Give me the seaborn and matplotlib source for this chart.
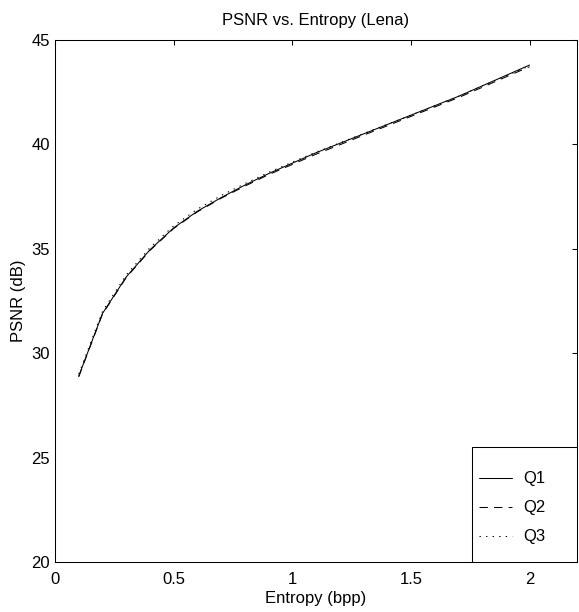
import pandas as pd
import numpy as np
import seaborn as sns
import matplotlib.pyplot as plt
from matplotlib.patches import Rectangle
from matplotlib.lines import Line2D

sns.set_style("white")
plt.rcParams['font.family'] = ['Liberation Sans', 'DejaVu Sans']
plt.rcParams['text.color'] = 'black'
plt.rcParams['axes.labelcolor'] = 'black'

# entropy (bpp) and PSNR (dB) for the three quantizers
entropy = [0.1, 0.2, 0.3, 0.4, 0.5, 0.6, 0.7, 0.8, 0.9, 1.0,
           1.1, 1.2, 1.3, 1.4, 1.5, 1.6, 1.7, 1.8, 1.9, 2.0]
q1 = [28.9, 31.9, 33.65, 34.95, 36.0, 36.8, 37.45, 38.05, 38.6, 39.1,
      39.6, 40.05, 40.5, 40.95, 41.4, 41.85, 42.3, 42.8, 43.3, 43.8]
q2 = [28.87, 31.87, 33.62, 34.92, 35.97, 36.77, 37.42, 38.0, 38.55, 39.04,
      39.53, 39.98, 40.44, 40.89, 41.34, 41.79, 42.24, 42.73, 43.23, 43.72]
q3 = [29.0, 32.0, 33.75, 35.05, 36.1, 36.9, 37.55, 38.12, 38.66, 39.15,
      39.63, 40.07, 40.52, 40.96, 41.4, 41.85, 42.3, 42.8, 43.28, 43.76]
names = ["Q1", "Q2", "Q3"]

df = pd.DataFrame({"Entropy": entropy * 3,
                   "PSNR": q1 + q2 + q3,
                   "Q": sum([[n] * len(entropy) for n in names], [])})

fig = plt.figure(figsize=(5.79, 6.12), dpi=100)
ax = fig.add_axes([55 / 579, 50 / 612, 522 / 579, 522 / 612])

dash_map = {"Q1": "", "Q2": (8, 6), "Q3": (1.3, 5)}
sns.lineplot(data=df, x="Entropy", y="PSNR", hue="Q", style="Q",
             palette=["black"] * 3, dashes=dash_map, linewidth=0.75,
             legend=False, ax=ax)

fs = 12
ax.set_xlim(0, 2.2)
ax.set_ylim(20, 45)
ax.set_xticks([0, 0.5, 1, 1.5, 2])
ax.set_xticklabels(["0", "0.5", "1", "1.5", "2"])
ax.set_yticks([20, 25, 30, 35, 40, 45])
for s in ax.spines.values():
    s.set_color("black")
    s.set_linewidth(0.75)
ax.tick_params(axis="both", direction="in", length=3.6, width=0.75,
               top=True, right=True, labelsize=fs, colors="black")
ax.tick_params(axis="x", pad=7)
ax.tick_params(axis="y", pad=3.5)

ax.set_title("PSNR vs. Entropy (Lena)", fontsize=fs, pad=11, color="black")
ax.set_xlabel("Entropy (bpp)", fontsize=fs, labelpad=3)
ax.set_ylabel("PSNR (dB)", fontsize=fs, labelpad=4)

# legend box in the lower right corner
ax.add_patch(Rectangle((0.799, 0.0), 0.201, 0.2203, transform=ax.transAxes,
                       facecolor="white", edgecolor="black", linewidth=0.75,
                       zorder=5))
handles = [Line2D([], [], color="black", lw=0.75, linestyle="-"),
           Line2D([], [], color="black", lw=0.75, dashes=(8, 6)),
           Line2D([], [], color="black", lw=0.75, dashes=(1.3, 5))]
leg = ax.legend(handles, names, loc="upper left",
                bbox_to_anchor=(0.812, 0.1735), frameon=False,
                borderpad=0, borderaxespad=0, handlelength=2.0,
                handletextpad=0.65, labelspacing=0.84, fontsize=fs)
leg.set_zorder(6)

fig.savefig("out.png", dpi=100)
